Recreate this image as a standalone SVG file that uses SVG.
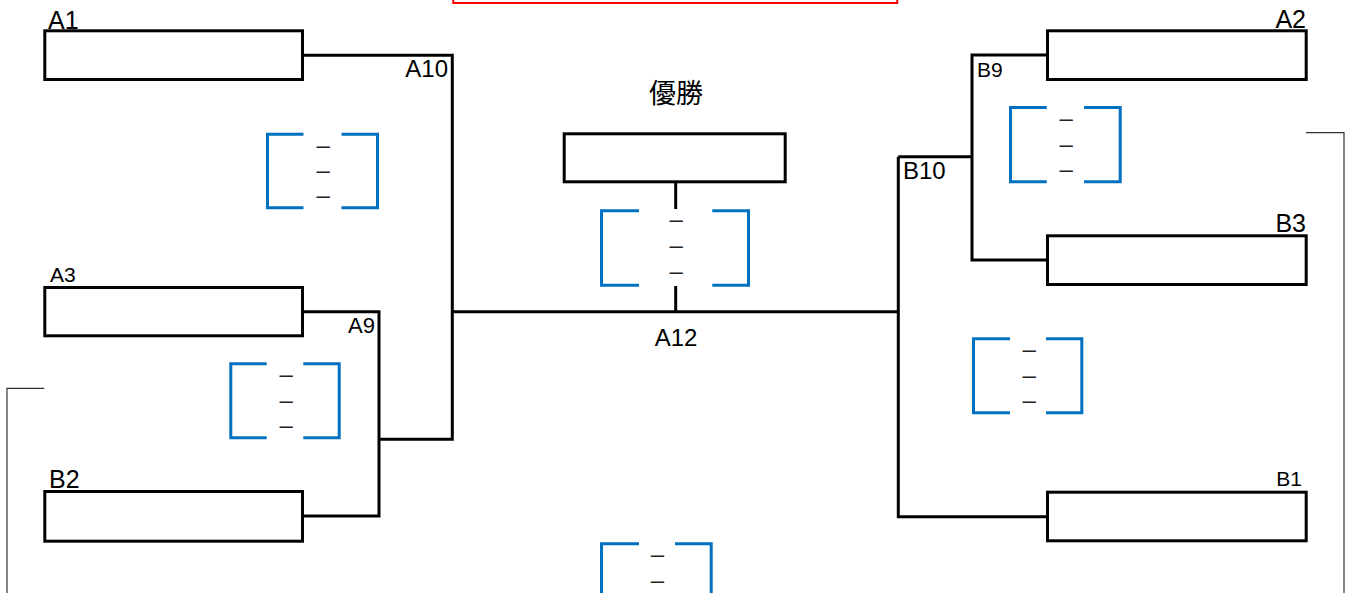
<svg xmlns="http://www.w3.org/2000/svg" width="1352" height="593" viewBox="0 0 1352 593">
<style>
.box{fill:#fff;stroke:#000;stroke-width:3}
.con{fill:none;stroke:#000;stroke-width:3}
.br{fill:none;stroke:#0070C0;stroke-width:3}
.thin{fill:none;stroke:#333;stroke-width:1.2}
.lbl{font-family:"Liberation Sans",Arial,sans-serif;fill:#000}
.d{font-family:"Liberation Sans",Arial,sans-serif;font-size:24px;fill:#222;text-anchor:middle}
.jp{font-family:"Noto Sans CJK JP","Noto Sans",sans-serif;font-size:27px;fill:#000;text-anchor:middle}
</style>
<rect width="1352" height="593" fill="#fff"/>
<rect x="453.3" y="-10" width="444" height="13" fill="none" stroke="#FF0000" stroke-width="2"/>
<g id="connectors">
<path class="con" d="M304,55.3 H452.3 V439.3 H379"/>
<path class="con" d="M304,311.7 H379 V516 H304"/>
<path class="con" d="M452.3,311.7 H898.3"/>
<path class="con" d="M898.3,156.7 V516.7 H1046"/>
<path class="con" d="M1046,55 H972 V260 H1046"/>
<path class="con" d="M898.3,156.7 H972"/>
<path class="con" d="M675.7,183 V209"/>
<path class="con" d="M675.7,286 V311.7"/>
<path class="thin" d="M44.3,388.3 H7 V600"/>
<path class="thin" d="M1306,132.7 H1344 V600"/>
</g>
<g id="A1"><rect class="box" x="44.8" y="30.8" width="257.7" height="48.7"/><text class="lbl" x="48" y="28.5" font-size="25">A1</text></g>
<g id="A3"><rect class="box" x="44.8" y="287.5" width="257.7" height="48.3"/><text class="lbl" x="50" y="282" font-size="21">A3</text></g>
<g id="B2"><rect class="box" x="44.8" y="491.5" width="257.7" height="49.7"/><text class="lbl" x="49" y="488" font-size="25">B2</text></g>
<g id="A2"><rect class="box" x="1047.5" y="30.8" width="258.7" height="48.7"/><text class="lbl" x="1306" y="27.5" font-size="25" text-anchor="end">A2</text></g>
<g id="B3"><rect class="box" x="1047.5" y="235.8" width="258.7" height="48.7"/><text class="lbl" x="1306" y="231.7" font-size="25" text-anchor="end">B3</text></g>
<g id="B1"><rect class="box" x="1047.5" y="492.2" width="258.7" height="48.6"/><text class="lbl" x="1302" y="486" font-size="21" text-anchor="end">B1</text></g>
<g id="winner"><text class="jp" x="676" y="103">優勝</text><rect class="box" x="564.2" y="133.8" width="221" height="48"/></g>
<g id="A10"><text class="lbl" x="448" y="77" font-size="24" text-anchor="end">A10</text></g>
<g id="A9"><text class="lbl" x="348" y="332.7" font-size="22">A9</text></g>
<g id="A12"><text class="lbl" x="676" y="346" font-size="24" text-anchor="middle">A12</text></g>
<g id="B9"><text class="lbl" x="977" y="76.7" font-size="21">B9</text></g>
<g id="B10"><text class="lbl" x="903" y="179.3" font-size="24">B10</text></g>
<g id="score-A10">
<path class="br" d="M303.5,134.2 H267.5 V207.8 H303.5 M341.5,134.2 H377.5 V207.8 H341.5"/>
<text class="d" x="323.3" y="152.5">–</text><text class="d" x="323.3" y="177.5">–</text><text class="d" x="323.3" y="203">–</text>
</g>
<g id="score-A12">
<path class="br" d="M639,210.8 H601.5 V285.2 H639 M712.3,210.8 H748.5 V285.2 H712.3"/>
<text class="d" x="676.3" y="227">–</text><text class="d" x="676.3" y="253">–</text><text class="d" x="676.3" y="279">–</text>
</g>
<g id="score-A9">
<path class="br" d="M266.7,363.8 H230.8 V437.8 H266.7 M303.3,363.8 H339.2 V437.8 H303.3"/>
<text class="d" x="286.3" y="382">–</text><text class="d" x="286.3" y="408">–</text><text class="d" x="286.3" y="433">–</text>
</g>
<g id="score-B9">
<path class="br" d="M1046.7,107.5 H1010.5 V181.8 H1046.7 M1084,107.5 H1120.2 V181.8 H1084"/>
<text class="d" x="1066.3" y="126">–</text><text class="d" x="1066.3" y="152">–</text><text class="d" x="1066.3" y="177">–</text>
</g>
<g id="score-B10">
<path class="br" d="M1010,338.8 H973.5 V412.8 H1010 M1046,338.8 H1081.8 V412.8 H1046"/>
<text class="d" x="1029.2" y="357">–</text><text class="d" x="1029.2" y="382.5">–</text><text class="d" x="1029.2" y="408">–</text>
</g>
<g id="score-bottom">
<path class="br" d="M639,543.8 H601.5 V620 M675,543.8 H711.2 V620"/>
<text class="d" x="657.5" y="562">–</text><text class="d" x="657.5" y="587.5">–</text>
</g>
</svg>
